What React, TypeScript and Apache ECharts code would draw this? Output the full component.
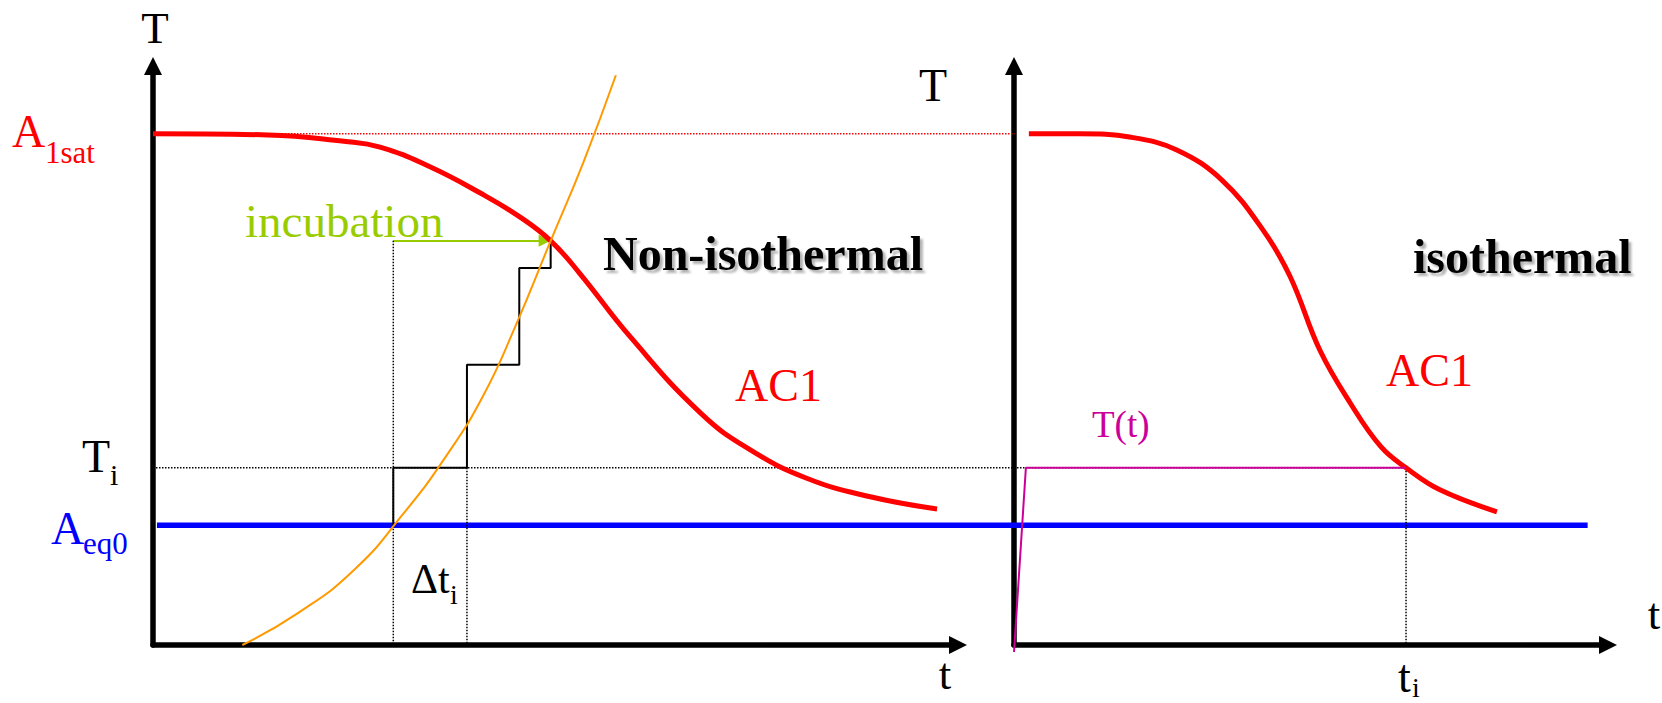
import { useEffect, useRef } from "react";
import * as echarts from "echarts";

// Schematic units: time and temperature both run 0–100 along each panel's axes.
const A1SAT = 88.3; // saturation temperature A1sat
const AEQ0 = 20.7; // equilibrium temperature Aeq0
const TI = 30.6; // temperature level Ti

// Non-isothermal panel: AC1 curve
const ac1NonIsoTime = [0, 14.3, 23.7, 28.2, 34.4, 40.6, 45.6, 49.4, 53.0, 59.3, 68.0, 74.2, 81.2, 89.1, 97.4];
const ac1NonIsoTemp = [88.3, 88.1, 87.0, 86.0, 82.6, 78.1, 73.9, 69.8, 64.2, 53.2, 40.1, 33.7, 28.8, 25.6, 23.5];

// Non-isothermal panel: heating curve T(t)
const heatTime = [11.1, 18.0, 25.0, 31.0, 36.5, 41.0, 45.0, 49.4, 53.5, 57.5];
const heatTemp = [0, 5.5, 13.0, 22.5, 32.8, 43.0, 55.0, 69.8, 83.5, 98.4];

// Staircase approximation of the heating curve
const stepTime = [29.85, 39.0, 45.5, 49.4];
const stepTemp = [AEQ0, TI, 48.4, 65.1, 69.8];

// Isothermal panel: AC1 curve
const ac1IsoTime = [2.5, 11.1, 19.7, 27.4, 35.0, 41.9, 46.5, 51.5, 56.6, 61.8, 66.0, 71.7, 81.3];
const ac1IsoTemp = [88.3, 88.3, 87.7, 85.5, 80.3, 71.7, 63.6, 50.9, 41.8, 34.2, 30.6, 26.8, 23.0];

// Isothermal hold: quick ramp then constant Ti until ti
const rampTime = [0, 2.0];
const rampTemp = [-1.2, TI];
const TI_TIME = 66.0; // ti

// Guides that run across both panels, in units of the shared overlay axis (0–100)
const GUIDE_RIGHT_AXIS = 59.2; // position of the isothermal T axis
const GUIDE_TI_END = 86.1; // ti
const GUIDE_AEQ0 = [0.27, 98.6]; // extent of the Aeq0 line

const SERIF = "Liberation Serif, Times New Roman, serif";

const zip = (a: number[], b: number[]) => a.map((v, i) => [v, b[i]]);

function buildStairs(): number[][] {
  const pts: number[][] = [];
  for (let i = 0; i < stepTime.length; i++) {
    pts.push([stepTime[i], stepTemp[i]]);
    pts.push([stepTime[i], stepTemp[i + 1]]);
  }
  return pts;
}

function axisPair(gridIndex: number, visible = true) {
  const common = {
    type: "value" as const,
    gridIndex,
    min: 0,
    max: 100,
    show: visible,
    axisLine: {
      show: visible,
      symbol: ["none", "triangle"],
      symbolSize: [18, 18],
      lineStyle: { color: "#000", width: 5.5 },
    },
    axisTick: { show: false },
    axisLabel: { show: false },
    splitLine: { show: false },
  };
  return { x: { ...common }, y: { ...common } };
}

function txt(
  text: string,
  x: number,
  y: number,
  size: number,
  fill: string,
  align: "left" | "center" = "left",
  bold = false
) {
  return {
    type: "text",
    x,
    y,
    silent: true,
    style: {
      text,
      fill,
      fontSize: size,
      fontFamily: SERIF,
      fontWeight: bold ? "bold" : "normal",
      align,
      verticalAlign: "middle",
      ...(bold
        ? {
            textShadowColor: "rgba(0,0,0,0.3)",
            textShadowOffsetX: 3,
            textShadowOffsetY: 3,
            textShadowBlur: 2,
          }
        : {}),
    },
  };
}

export default function App() {
  const ref = useRef<HTMLDivElement>(null);

  useEffect(() => {
    if (!ref.current) return;
    const chart = echarts.init(ref.current, undefined, { renderer: "svg" });
    const left = axisPair(0);
    const right = axisPair(1);
    const overlay = axisPair(2, false);

    const line = (
      name: string,
      data: number[][],
      color: string,
      width: number,
      opts: Record<string, unknown> = {}
    ) => ({
      name,
      type: "line",
      data,
      showSymbol: false,
      symbol: "none",
      silent: true,
      lineStyle: { color, width },
      ...opts,
    });

    const dotted = (color: string) => ({ type: "dotted" as const, color, width: 1.5 });
    const onRight = { xAxisIndex: 1, yAxisIndex: 1 };
    const onOverlay = { xAxisIndex: 2, yAxisIndex: 2 };

    chart.setOption({
      animation: false,
      backgroundColor: "#ffffff",
      grid: [
        { left: 153, top: 66, width: 805, height: 579 },
        { left: 1014, top: 66, width: 594, height: 579 },
        { left: 153, top: 66, width: 1455, height: 579 },
      ],
      xAxis: [left.x, right.x, overlay.x],
      yAxis: [left.y, right.y, overlay.y],
      series: [
        // guides crossing both panels
        line("A1sat", [[0, A1SAT], [GUIDE_RIGHT_AXIS, A1SAT]], "#FF0000", 1.5, {
          ...onOverlay,
          lineStyle: dotted("#FF0000"),
        }),
        line("Ti", [[0, TI], [GUIDE_TI_END, TI]], "#000", 1.5, {
          ...onOverlay,
          lineStyle: dotted("#000"),
        }),
        line("Aeq0", [[GUIDE_AEQ0[0], AEQ0], [GUIDE_AEQ0[1], AEQ0]], "#0000FF", 5.5, onOverlay),
        // non-isothermal panel
        line("start", [[stepTime[0], stepTemp[stepTemp.length - 1]], [stepTime[0], 0]], "#000", 1.5, {
          lineStyle: dotted("#000"),
        }),
        line("Δti", [[stepTime[1], TI], [stepTime[1], 0]], "#000", 1.5, {
          lineStyle: dotted("#000"),
        }),
        line("steps", buildStairs(), "#000", 2),
        line("AC1 non-isothermal", zip(ac1NonIsoTime, ac1NonIsoTemp), "#FF0000", 5, { smooth: 0.45 }),
        line("heating", zip(heatTime, heatTemp), "#FF9900", 2, { smooth: 0.5 }),
        {
          name: "incubation",
          type: "lines",
          coordinateSystem: "cartesian2d",
          xAxisIndex: 0,
          yAxisIndex: 0,
          silent: true,
          symbol: ["none", "triangle"],
          symbolSize: [10, 12],
          lineStyle: { color: "#99CC00", width: 2, opacity: 1, curveness: 0 },
          // the arrowhead is centred on the end point, so stop short by half its length
          data: [
            {
              coords: [
                [stepTime[0], stepTemp[stepTemp.length - 1]],
                [stepTime[stepTime.length - 1] - 0.75, stepTemp[stepTemp.length - 1]],
              ],
            },
          ],
        },
        // isothermal panel
        line("ti", [[TI_TIME, TI], [TI_TIME, 0]], "#000", 1.5, {
          ...onRight,
          lineStyle: dotted("#000"),
        }),
        line("AC1 isothermal", zip(ac1IsoTime, ac1IsoTemp), "#FF0000", 5, {
          ...onRight,
          smooth: 0.4,
        }),
        line("T(t)", [...zip(rampTime, rampTemp), [TI_TIME, TI]], "#CC0099", 2, {
          ...onRight,
          clip: false,
        }),
      ],
      graphic: [
        txt("T", 155, 28, 45, "#000", "center"),
        txt("T", 933, 85, 46, "#000", "center"),
        txt("t", 945, 674, 45, "#000", "center"),
        txt("t", 1654, 614, 45, "#000", "center"),
        txt("A", 12, 131, 46, "#FF0000"),
        txt("1sat", 45, 152, 31, "#FF0000"),
        txt("A", 51, 528, 46, "#0000FF"),
        txt("eq0", 83, 543, 31, "#0000FF"),
        txt("T", 82, 456, 46, "#000"),
        txt("i", 110, 474, 30, "#000"),
        txt("incubation", 245, 221, 47, "#99CC00"),
        txt("Non-isothermal", 603, 253, 48, "#000", "left", true),
        txt("isothermal", 1413, 256, 48, "#000", "left", true),
        txt("AC1", 735, 385, 46, "#FF0000"),
        txt("AC1", 1386, 370, 46, "#FF0000"),
        txt("T(t)", 1092, 424, 37, "#CC0099"),
        txt("Δt", 411, 579, 42, "#000"),
        txt("i", 450, 594, 28, "#000"),
        txt("t", 1398, 676, 46, "#000"),
        txt("i", 1412, 687, 28, "#000"),
      ],
    });
    return () => chart.dispose();
  }, []);

  return (
    <div
      ref={ref}
      style={{ position: "fixed", left: 0, top: 0, width: 1662, height: 703, background: "#fff" }}
    />
  );
}
